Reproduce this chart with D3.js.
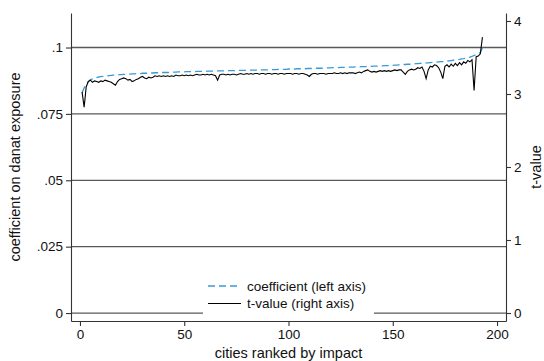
<!DOCTYPE html>
<html>
<head>
<meta charset="utf-8">
<script src="https://cdn.jsdelivr.net/npm/d3@7"></script>
<style>
  html, body { margin: 0; padding: 0; background: #fff; }
  svg { display: block; font-family: Arial, "Liberation Sans", sans-serif; }
</style>
</head>
<body>
<svg id="chart" width="544" height="361"></svg>
<script>
// Estimated coefficient on Danat exposure, cities ranked by impact (rank 1..193)
const coefficient = [
  0.0830, 0.0848, 0.0862, 0.0872, 0.0878, 0.0882, 0.0885, 0.0887, 0.0889, 0.0890,
  0.0891, 0.0892, 0.0893, 0.0894, 0.0895, 0.0896, 0.0896, 0.0897, 0.0898, 0.0898,
  0.0899, 0.0899, 0.0900, 0.0900, 0.0901, 0.0901, 0.0902, 0.0902, 0.0902, 0.0903,
  0.0903, 0.0903, 0.0904, 0.0904, 0.0904, 0.0905, 0.0905, 0.0905, 0.0906, 0.0906,
  0.0906, 0.0906, 0.0907, 0.0907, 0.0907, 0.0907, 0.0908, 0.0908, 0.0908, 0.0908,
  0.0909, 0.0909, 0.0909, 0.0909, 0.0909, 0.0910, 0.0910, 0.0910, 0.0910, 0.0910,
  0.0911, 0.0911, 0.0911, 0.0911, 0.0911, 0.0912, 0.0912, 0.0912, 0.0912, 0.0912,
  0.0913, 0.0913, 0.0913, 0.0913, 0.0913, 0.0914, 0.0914, 0.0914, 0.0914, 0.0914,
  0.0915, 0.0915, 0.0915, 0.0915, 0.0915, 0.0916, 0.0916, 0.0916, 0.0916, 0.0916,
  0.0917, 0.0917, 0.0917, 0.0917, 0.0918, 0.0918, 0.0918, 0.0918, 0.0918, 0.0919,
  0.0919, 0.0919, 0.0919, 0.0920, 0.0920, 0.0920, 0.0920, 0.0920, 0.0921, 0.0921,
  0.0921, 0.0921, 0.0922, 0.0922, 0.0922, 0.0922, 0.0923, 0.0923, 0.0923, 0.0923,
  0.0924, 0.0924, 0.0924, 0.0924, 0.0925, 0.0925, 0.0925, 0.0925, 0.0926, 0.0926,
  0.0926, 0.0927, 0.0927, 0.0927, 0.0928, 0.0928, 0.0928, 0.0929, 0.0929, 0.0929,
  0.0930, 0.0930, 0.0930, 0.0931, 0.0931, 0.0932, 0.0932, 0.0932, 0.0933, 0.0933,
  0.0934, 0.0934, 0.0935, 0.0935, 0.0936, 0.0936, 0.0937, 0.0937, 0.0938, 0.0938,
  0.0939, 0.0939, 0.0940, 0.0941, 0.0941, 0.0942, 0.0942, 0.0943, 0.0944, 0.0944,
  0.0945, 0.0946, 0.0947, 0.0947, 0.0948, 0.0949, 0.0950, 0.0951, 0.0952, 0.0953,
  0.0954, 0.0955, 0.0957, 0.0958, 0.0960, 0.0962, 0.0964, 0.0967, 0.0970, 0.0973,
  0.0976, 0.0982, 0.1000
];

// t-statistic of each coefficient (right axis)
const tValue = [
  3.03, 2.82, 3.10, 3.17, 3.19, 3.16, 3.18, 3.17, 3.16, 3.18,
  3.17, 3.19, 3.18, 3.17, 3.16, 3.14, 3.12, 3.17, 3.20, 3.21,
  3.22, 3.21, 3.19, 3.20, 3.17, 3.18, 3.20, 3.21, 3.23, 3.24,
  3.22, 3.21, 3.23, 3.22, 3.23, 3.25, 3.24, 3.25, 3.24, 3.25,
  3.24, 3.25, 3.24, 3.25, 3.24, 3.26, 3.25, 3.25, 3.26, 3.25,
  3.26, 3.25, 3.26, 3.25, 3.26, 3.27, 3.26, 3.26, 3.27, 3.26,
  3.27, 3.26, 3.27, 3.26, 3.25, 3.19, 3.26, 3.27, 3.27, 3.26,
  3.27, 3.26, 3.27, 3.27, 3.26, 3.27, 3.28, 3.27, 3.27, 3.28,
  3.27, 3.28, 3.27, 3.28, 3.28, 3.27, 3.28, 3.28, 3.27, 3.28,
  3.28, 3.27, 3.28, 3.28, 3.27, 3.28, 3.28, 3.27, 3.28, 3.28,
  3.28, 3.27, 3.28, 3.28, 3.27, 3.28, 3.28, 3.27, 3.26, 3.24,
  3.27, 3.28, 3.28, 3.27, 3.28, 3.28, 3.28, 3.27, 3.28, 3.28,
  3.28, 3.29, 3.28, 3.28, 3.29, 3.28, 3.29, 3.28, 3.29, 3.29,
  3.29, 3.28, 3.29, 3.30, 3.29, 3.31, 3.32, 3.33, 3.31, 3.30,
  3.31, 3.30, 3.31, 3.32, 3.31, 3.32, 3.31, 3.32, 3.31, 3.32,
  3.33, 3.32, 3.33, 3.33, 3.30, 3.27, 3.31, 3.33, 3.34, 3.33,
  3.34, 3.36, 3.35, 3.37, 3.31, 3.21, 3.33, 3.38, 3.37, 3.40,
  3.39, 3.36, 3.30, 3.21, 3.38, 3.40, 3.37, 3.41, 3.38, 3.42,
  3.39, 3.43, 3.40, 3.44, 3.42, 3.46, 3.44, 3.47, 3.05, 3.51,
  3.52, 3.55, 3.78
];

const rank = coefficient.map((_, i) => i + 1);

const xTicks = [0, 50, 100, 150, 200];
const leftTicks = [0, 0.025, 0.05, 0.075, 0.1];
const leftTickLabels = ["0", ".025", ".05", ".075", ".1"];
const rightTicks = [0, 1, 2, 3, 4];

const legendLabels = ["coefficient (left axis)", "t-value (right axis)"];

const svg = d3.select("#chart");

const plot = { left: 71, right: 506, top: 13, bottom: 321 };

const x = d3.scaleLinear().domain([-4.3, 204.3]).range([plot.left, plot.right]);
const yLeft = d3.scaleLinear().domain([-0.0030, 0.1130]).range([plot.bottom, plot.top]);
const yRight = d3.scaleLinear().domain([-0.1096, 4.1096]).range([plot.bottom, plot.top]);

const axisColor = "#333";
const gridColor = "#5a5a5a";
const blue = "#3a9ad4";
const tickFont = "13.5px";
const titleFont = "14.5px";
const legendFont = "13.5px";

// horizontal grid lines at the left-axis ticks
svg.append("g")
  .selectAll("line")
  .data(leftTicks)
  .join("line")
  .attr("x1", plot.left)
  .attr("x2", plot.right)
  .attr("y1", d => yLeft(d))
  .attr("y2", d => yLeft(d))
  .attr("stroke", gridColor)
  .attr("stroke-width", 1.3);

// series
const coefLine = d3.line()
  .x((d, i) => x(rank[i]))
  .y(d => yLeft(d));
const tLine = d3.line()
  .x((d, i) => x(rank[i]))
  .y(d => yRight(d));

svg.append("path")
  .datum(coefficient)
  .attr("d", coefLine)
  .attr("fill", "none")
  .attr("stroke", blue)
  .attr("stroke-width", 1.3)
  .attr("stroke-dasharray", "7,4");

svg.append("path")
  .datum(tValue)
  .attr("d", tLine)
  .attr("fill", "none")
  .attr("stroke", "#000")
  .attr("stroke-width", 1.1)
  .attr("stroke-linejoin", "miter");

// axes
function styleAxis(g) {
  g.select(".domain").attr("stroke", axisColor).attr("stroke-width", 1.1);
  g.selectAll(".tick line").attr("stroke", axisColor).attr("stroke-width", 1.1);
  g.selectAll(".tick text").attr("fill", "#111").style("font-size", tickFont);
}

svg.append("g")
  .attr("transform", `translate(${plot.left},0)`)
  .call(d3.axisLeft(yLeft).tickValues(leftTicks)
    .tickFormat((d, i) => leftTickLabels[i]).tickSize(5).tickSizeOuter(0).tickPadding(3))
  .call(styleAxis);

svg.append("g")
  .attr("transform", `translate(${plot.right},0)`)
  .call(d3.axisRight(yRight).tickValues(rightTicks)
    .tickFormat(d3.format("d")).tickSize(5).tickSizeOuter(0).tickPadding(3))
  .call(styleAxis);

svg.append("g")
  .attr("transform", `translate(0,${plot.bottom})`)
  .call(d3.axisBottom(x).tickValues(xTicks)
    .tickFormat(d3.format("d")).tickSize(5).tickSizeOuter(0).tickPadding(3))
  .call(styleAxis);

// axis titles
svg.append("text")
  .attr("transform", `translate(20,${(plot.top + plot.bottom) / 2}) rotate(-90)`)
  .attr("text-anchor", "middle")
  .style("font-size", titleFont)
  .attr("fill", "#111")
  .text("coefficient on danat exposure");

svg.append("text")
  .attr("transform", `translate(541,${(plot.top + plot.bottom) / 2}) rotate(-90)`)
  .attr("text-anchor", "middle")
  .style("font-size", titleFont)
  .attr("fill", "#111")
  .text("t-value");

svg.append("text")
  .attr("x", x(100))
  .attr("y", 358)
  .attr("text-anchor", "middle")
  .style("font-size", titleFont)
  .attr("fill", "#111")
  .text("cities ranked by impact");

// legend
const legend = svg.append("g");
legend.append("rect")
  .attr("x", 203)
  .attr("y", 274)
  .attr("width", 171)
  .attr("height", 42)
  .attr("fill", "#fff");

const legendStyles = [
  { stroke: blue, dash: "7,4", width: 1.3 },
  { stroke: "#000", dash: null, width: 1.1 }
];
legendLabels.forEach((label, i) => {
  const yy = 286 + i * 17.5;
  legend.append("line")
    .attr("x1", 208).attr("x2", 241)
    .attr("y1", yy).attr("y2", yy)
    .attr("stroke", legendStyles[i].stroke)
    .attr("stroke-width", legendStyles[i].width)
    .attr("stroke-dasharray", legendStyles[i].dash);
  legend.append("text")
    .attr("x", 247)
    .attr("y", yy + 4.5)
    .style("font-size", legendFont)
    .attr("fill", "#111")
    .text(label);
});
</script>
</body>
</html>
